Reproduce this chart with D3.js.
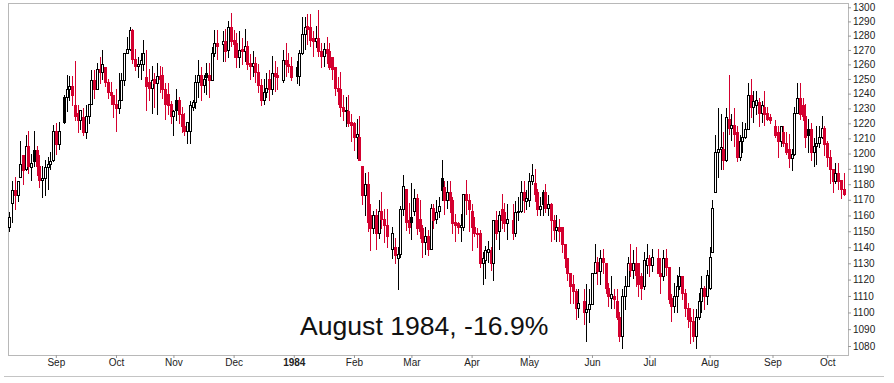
<!DOCTYPE html>
<html>
<head>
<meta charset="utf-8">
<script src="https://cdn.jsdelivr.net/npm/d3@7"></script>
<style>
body { margin:0; background:#fff; }
svg { display:block; }
.axis text { font-family:"Liberation Sans", Arial, sans-serif; font-size:10px; fill:#222; }
.axis line { stroke:#999; }
.note { font-family:"Liberation Sans", Arial, sans-serif; font-size:26.6px; fill:#111; }
</style>
</head>
<body>
<svg id="chart"></svg>
<script>
// trading calendar (x axis runs on weekdays, market holidays are left blank)
var firstDay = "1983-08-09";
var lastDay = "1984-10-09";
var holidays = ["1983-09-05","1983-11-24","1983-12-26","1984-01-02","1984-02-20",
                "1984-04-20","1984-05-28","1984-07-04","1984-09-03"];

// daily OHLC, one line per month
var open = [
 1153,1168,1176,1173,1185,1199,1190,1205,1191,1202,1202,1192,1183,1184,1191,1193,1196,
 1215,1206,1238,1238,1243,1245,1232,1227,1222,1224,1214,1225,1233,1249,1243,1257,1255,1258,1248,1241,1239,
 1233,1230,1236,1249,1268,1271,1284,1264,1259,1260,1260,1251,1248,1244,1250,1247,1252,1253,1243,1240,1233,
 1225,1236,1236,1226,1218,1215,1215,1231,1234,1248,1253,1246,1254,1253,1249,1268,1275,1274,1276,1270,1286,
 1277,1275,1265,1271,1269,1273,1261,1259,1261,1255,1246,1236,1241,1250,1243,1254,1253,1249,1263,1260,1259,
 1258,1252,1268,1281,1287,1286,1278,1276,1278,1269,1266,1271,1269,1265,1258,1244,1243,1231,1228,1228,1221,
 1220,1211,1211,1192,1173,1180,1160,1152,1160,1149,1163,1158,1154,1139,1140,1133,1136,1164,1177,1157,
 1159,1163,1171,1158,1152,1143,1147,1139,1165,1158,1163,1184,1178,1170,1175,1170,1156,1155,1153,1153,1174,1170,
 1163,1153,1149,1149,1130,1132,1137,1138,1130,1157,1150,1164,1162,1155,1157,1149,1162,1163,1175,1169,
 1170,1182,1181,1175,1164,1175,1175,1165,1167,1157,1151,1153,1153,1142,1133,1124,1117,1113,1103,1107,1100,1102,
 1105,1124,1131,1125,1133,1130,1115,1109,1110,1107,1097,1086,1110,1116,1130,1126,1130,1130,1122,1116,1129,
 1133,1129,1133,1124,1122,1133,1128,1109,1104,1110,1116,1122,1112,1103,1097,1095,1086,1097,1107,1115,1110,
 1115,1137,1175,1201,1203,1203,1196,1223,1217,1219,1214,1198,1208,1211,1216,1239,1231,1232,1234,1227,1231,1227,1224,
 1218,1214,1208,1214,1207,1203,1197,1200,1227,1237,1232,1225,1216,1216,1201,1205,1207,1211,1217,
 1207,1198,1190,1182,1187,1183,1177
];
var high = [
 1162,1182,1185,1182,1208,1199,1212,1215,1200,1215,1205,1199,1192,1196,1198,1201,1219,
 1220,1221,1239,1253,1252,1252,1262,1232,1229,1230,1232,1233,1256,1256,1261,1265,1270,1258,1250,1248,1239,
 1243,1254,1254,1268,1279,1286,1285,1271,1265,1268,1277,1270,1257,1259,1254,1261,1259,1258,1247,1247,1235,
 1229,1243,1238,1231,1227,1220,1235,1236,1253,1263,1258,1253,1261,1261,1272,1284,1284,1283,1285,1290,1296,
 1284,1282,1283,1278,1285,1276,1267,1269,1265,1260,1250,1250,1254,1256,1266,1262,1258,1270,1275,1268,1265,
 1262,1270,1293,1293,1295,1295,1283,1287,1298,1275,1275,1279,1275,1265,1258,1251,1255,1239,1238,1239,1226,
 1221,1223,1225,1192,1187,1188,1167,1163,1164,1170,1175,1164,1164,1153,1146,1140,1166,1186,1177,1168,
 1181,1177,1174,1170,1154,1153,1151,1167,1167,1170,1172,1196,1182,1182,1182,1172,1161,1156,1161,1174,1183,1174,
 1167,1159,1152,1151,1137,1141,1144,1140,1157,1163,1163,1174,1168,1167,1167,1169,1172,1182,1182,1176,
 1187,1193,1190,1177,1172,1176,1180,1173,1168,1160,1160,1158,1153,1142,1133,1124,1123,1114,1114,1114,1117,1114,
 1124,1142,1134,1138,1139,1130,1118,1122,1114,1114,1100,1114,1122,1134,1142,1138,1140,1130,1124,1137,1142,
 1135,1139,1139,1133,1138,1139,1128,1111,1118,1123,1128,1122,1114,1106,1103,1102,1102,1112,1122,1116,1126,
 1140,1170,1212,1230,1226,1214,1230,1253,1226,1230,1218,1212,1221,1220,1247,1250,1242,1242,1237,1235,1242,1231,1226,
 1222,1218,1218,1218,1214,1213,1203,1231,1247,1247,1237,1233,1223,1220,1210,1218,1218,1225,1218,
 1208,1202,1190,1194,1194,1183,1187
];
var low = [
 1150,1156,1164,1169,1185,1180,1189,1187,1183,1192,1186,1178,1172,1173,1177,1190,1195,
 1200,1203,1220,1228,1236,1232,1222,1214,1216,1212,1210,1220,1233,1237,1243,1247,1250,1245,1237,1233,1224,
 1215,1227,1236,1246,1268,1270,1261,1256,1251,1250,1256,1229,1236,1227,1231,1226,1241,1237,1223,1226,1220,
 1212,1222,1220,1214,1212,1207,1207,1229,1230,1238,1236,1241,1240,1238,1249,1266,1264,1262,1262,1265,1273,
 1265,1258,1258,1260,1262,1257,1250,1252,1248,1241,1232,1233,1238,1236,1240,1242,1243,1248,1252,1255,1249,
 1247,1246,1267,1271,1274,1273,1266,1272,1266,1258,1259,1261,1257,1250,1239,1233,1225,1222,1218,1218,1208,
 1202,1197,1196,1167,1160,1150,1138,1149,1139,1146,1152,1143,1140,1133,1130,1114,1134,1160,1151,1149,
 1145,1160,1148,1146,1134,1136,1135,1139,1152,1155,1159,1170,1161,1165,1162,1149,1144,1149,1144,1151,1161,1150,
 1138,1147,1140,1128,1117,1121,1131,1126,1120,1145,1139,1152,1150,1145,1145,1147,1157,1162,1162,1164,
 1166,1180,1169,1160,1160,1160,1162,1160,1144,1145,1144,1144,1137,1128,1120,1106,1106,1096,1097,1093,1083,1094,
 1105,1124,1117,1117,1124,1112,1104,1103,1103,1096,1083,1079,1102,1116,1122,1121,1116,1110,1108,1114,1124,
 1122,1125,1124,1112,1120,1123,1106,1095,1100,1100,1114,1108,1098,1091,1082,1083,1079,1096,1100,1102,1105,
 1114,1137,1175,1185,1190,1190,1195,1213,1209,1205,1195,1196,1201,1210,1216,1224,1221,1226,1218,1221,1219,1222,1220,
 1211,1198,1205,1205,1200,1191,1189,1199,1227,1223,1222,1204,1201,1196,1192,1193,1204,1210,1199,
 1192,1181,1175,1181,1177,1171,1173
];
var close = [
 1159,1176,1173,1182,1193,1189,1205,1192,1194,1195,1192,1183,1184,1191,1193,1195,1215,
 1206,1215,1221,1243,1245,1239,1225,1222,1229,1214,1225,1233,1249,1243,1257,1255,1260,1248,1241,1239,1233,
 1230,1236,1249,1268,1271,1284,1264,1259,1260,1263,1268,1245,1244,1249,1247,1252,1250,1243,1233,1232,1225,
 1228,1229,1226,1218,1215,1221,1232,1234,1248,1253,1246,1250,1251,1249,1268,1275,1273,1276,1269,1286,1276,
 1274,1265,1270,1269,1273,1260,1259,1261,1255,1246,1236,1241,1244,1243,1254,1252,1251,1263,1260,1259,1251,
 1252,1268,1281,1286,1285,1277,1276,1278,1269,1266,1271,1268,1258,1257,1244,1242,1231,1228,1229,1220,1219,
 1211,1213,1196,1173,1180,1156,1152,1160,1149,1163,1158,1154,1147,1149,1135,1136,1164,1179,1156,1153,
 1156,1171,1152,1150,1143,1147,1139,1165,1157,1162,1166,1176,1170,1175,1170,1155,1154,1153,1154,1174,1170,1164,
 1153,1149,1148,1130,1133,1138,1139,1130,1157,1149,1160,1157,1155,1158,1149,1162,1163,1175,1170,1171,
 1182,1186,1174,1164,1166,1167,1165,1167,1157,1151,1153,1150,1142,1133,1124,1116,1113,1103,1106,1100,1102,1105,
 1124,1131,1125,1133,1131,1115,1110,1111,1108,1097,1086,1110,1116,1130,1126,1130,1123,1117,1115,1132,1133,
 1129,1134,1124,1122,1133,1128,1108,1104,1110,1116,1122,1112,1103,1096,1095,1086,1097,1107,1115,1110,1123,
 1134,1165,1201,1203,1204,1196,1224,1217,1219,1213,1198,1208,1211,1216,1239,1231,1235,1236,1227,1232,1226,1223,1222,
 1212,1208,1218,1207,1201,1197,1200,1227,1237,1226,1225,1211,1212,1201,1205,1207,1211,1217,1206,
 1198,1190,1182,1187,1182,1177,1174
];

// axis labels
var monthStarts = ["1983-09","1983-10","1983-11","1983-12","1984-01","1984-02","1984-03",
                   "1984-04","1984-05","1984-06","1984-07","1984-08","1984-09","1984-10"];
var monthLabels = ["Sep","Oct","Nov","Dec","1984","Feb","Mar","Apr","May","Jun","Jul","Aug","Sep","Oct"];
var priceTicks = [1080,1090,1100,1110,1120,1130,1140,1150,1160,1170,1180,1190,1200,
                  1210,1220,1230,1240,1250,1260,1270,1280,1290,1300];
var noteText = "August 1984, -16.9%";

var upColor = "#000000";
var downColor = "#d4002f";

var screen = {width:894, height:383};
var plot = {left:8, top:3, right:848, bottom:355};

var svg = d3.select("#chart")
    .attr("width", screen.width)
    .attr("height", screen.height);

var parse = d3.timeParse("%Y-%m-%d");
var fmt = d3.timeFormat("%Y-%m-%d");
var fmtMonth = d3.timeFormat("%Y-%m");

// weekday slots
var weekdays = d3.timeDay.range(parse(firstDay), d3.timeDay.offset(parse(lastDay), 1))
    .filter(function(d) { var w = d.getDay(); return w != 0 && w != 6; });
var slotOf = {};
weekdays.forEach(function(d, i) { slotOf[fmt(d)] = i; });
var tradingDays = weekdays.filter(function(d) { return holidays.indexOf(fmt(d)) < 0; });

if (tradingDays.length != close.length) console.log("length mismatch", tradingDays.length, close.length);

var bars = tradingDays.map(function(d, i) {
    return {
        slot: slotOf[fmt(d)],
        o: open[i], h: high[i], l: low[i], c: close[i],
        pc: i > 0 ? close[i-1] : open[i]
    };
});

var x = d3.scaleLinear()
    .domain([-0.475, 306.6])
    .range([plot.left, plot.right]);
var y = d3.scaleLog()
    .domain([1080, 1300])
    .range([346, 7.3]);

// frame
svg.append("rect")
    .attr("x", plot.left + 0.5)
    .attr("y", plot.top + 0.5)
    .attr("width", plot.right - plot.left)
    .attr("height", plot.bottom - plot.top)
    .attr("fill", "none")
    .attr("stroke", "#b8b8b8");

svg.append("line")
    .attr("x1", 4).attr("x2", 884)
    .attr("y1", 376.5).attr("y2", 376.5)
    .attr("stroke", "#c4c4c4");

// y axis on the right
var yAxis = d3.axisRight(y)
    .tickValues(priceTicks)
    .tickFormat(d3.format("d"))
    .tickSize(3)
    .tickPadding(2);
var gy = svg.append("g")
    .attr("class", "axis")
    .attr("transform", "translate(" + plot.right + ",0)")
    .call(yAxis);
gy.select(".domain").remove();

// month ticks at the first weekday of each month
var monthSlots = monthStarts.map(function(m) {
    var first = weekdays.find(function(d) { return fmtMonth(d) == m; });
    return slotOf[fmt(first)];
});
var xAxis = d3.axisBottom(x)
    .tickValues(monthSlots)
    .tickFormat(function(d, i) { return monthLabels[i]; })
    .tickSize(3)
    .tickPadding(1);
var gx = svg.append("g")
    .attr("class", "axis")
    .attr("transform", "translate(0," + plot.bottom + ")")
    .call(xAxis);
gx.select(".domain").remove();
gx.selectAll("text")
    .style("font-weight", function(d, i) { return monthLabels[i] == "1984" ? "bold" : "normal"; });

// candles
var g = svg.append("g").attr("class", "candles");

var colorOf = function(b) { return b.c >= b.pc ? upColor : downColor; };

var candle = g.selectAll("g.bar")
    .data(bars)
    .enter()
    .append("g")
    .classed("bar", true)
    .attr("shape-rendering", "crispEdges");

candle.append("line")
    .attr("x1", function(b) { return Math.round(x(b.slot)) + 0.5; })
    .attr("x2", function(b) { return Math.round(x(b.slot)) + 0.5; })
    .attr("y1", function(b) { return Math.round(y(b.h)); })
    .attr("y2", function(b) { return Math.round(y(b.l)) + 1; })
    .attr("stroke", colorOf);

candle.append("rect")
    .attr("x", function(b) {
        var cx = Math.round(x(b.slot));
        return b.c > b.o ? cx - 0.5 : cx - 1;
    })
    .attr("y", function(b) {
        var top = Math.round(y(Math.max(b.o, b.c)));
        return b.c > b.o ? top + 0.5 : top;
    })
    .attr("width", function(b) { return b.c > b.o ? 2 : 3; })
    .attr("height", function(b) {
        var top = Math.round(y(Math.max(b.o, b.c)));
        var bot = Math.round(y(Math.min(b.o, b.c)));
        return b.c > b.o ? Math.max(1, bot - top) : Math.max(1, bot - top + 1);
    })
    .attr("fill", function(b) { return b.c > b.o ? "#fff" : colorOf(b); })
    .attr("stroke", function(b) { return b.c > b.o ? colorOf(b) : "none"; });

svg.append("text")
    .attr("class", "note")
    .attr("x", 300)
    .attr("y", 335)
    .text(noteText);
</script>
</body>
</html>
